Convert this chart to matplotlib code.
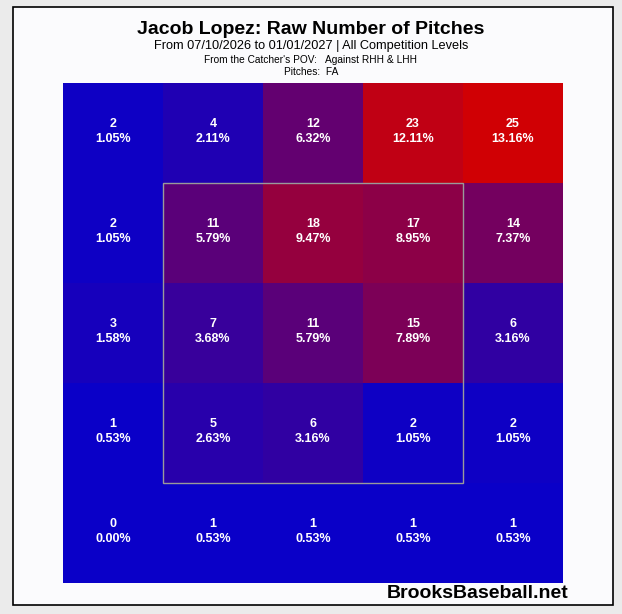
import numpy as np
import matplotlib.pyplot as plt
from matplotlib.colors import LinearSegmentedColormap
from matplotlib.patches import Rectangle

plt.rcParams['font.family'] = ['Liberation Sans', 'DejaVu Sans']

# pitch counts per zone, top row first (catcher's view)
row_top = [2, 4, 12, 23, 25]
row_2 = [2, 11, 18, 17, 14]
row_3 = [3, 7, 11, 15, 6]
row_4 = [1, 5, 6, 2, 2]
row_bottom = [0, 1, 1, 1, 1]

title = "Jacob Lopez: Raw Number of Pitches"
subtitle = "From 07/10/2026 to 01/01/2027 | All Competition Levels"
pov_line = "From the Catcher's POV:   Against RHH & LHH"
pitch_line = "Pitches:  FA"
watermark = "BrooksBaseball.net"

counts = np.array([row_top, row_2, row_3, row_4, row_bottom])
pct = counts / counts.sum() * 100

W, H = 622, 614
fig = plt.figure(figsize=(W / 100, H / 100), dpi=100)
fig.patch.set_facecolor('#ebebeb')

# white panel with black frame
panel = Rectangle((13 / W, 1 - 605 / H), 600 / W, 598 / H, transform=fig.transFigure,
                  facecolor='#fbfbfd', edgecolor='black', linewidth=1.2, zorder=-5)
fig.patches.append(panel)

ax = fig.add_axes([63 / W, 1 - 583 / H, 500 / W, 500 / H])
ax.set_zorder(2)
cmap = LinearSegmentedColormap.from_list('br', ['#0a00c8', '#d00004'])
# low counts all sit at the blue end
ax.pcolormesh(np.arange(6), np.arange(6), counts, cmap=cmap, vmin=1.5, vmax=counts.max())
ax.set_xlim(0, 5)
ax.set_ylim(5, 0)
ax.axis('off')

# strike zone
ax.add_patch(Rectangle((1, 1), 3, 3, fill=False, edgecolor='#9a9a9a', linewidth=1))

for r in range(5):
    for c in range(5):
        ax.text(c + 0.5, r + 0.41, str(counts[r, c]), ha='center', va='center',
                color='white', fontsize=9, fontweight='bold')
        ax.text(c + 0.5, r + 0.565, f"{pct[r, c]:.2f}%", ha='center', va='center',
                color='white', fontsize=9, fontweight='bold')

fig.text(311 / W, 1 - 29 / H, title, ha='center', va='center', fontsize=14, fontweight='bold')
fig.text(311 / W, 1 - 46 / H, subtitle, ha='center', va='center', fontsize=9.2)
fig.text(311 / W, 1 - 60 / H, pov_line, ha='center', va='center', fontsize=7.3)
fig.text(311 / W, 1 - 72 / H, pitch_line, ha='center', va='center', fontsize=7.3)
fig.text(568 / W, 1 - 594 / H, watermark, ha='right', va='center', fontsize=14, fontweight='bold')

fig.savefig('out.png', dpi=100, facecolor=fig.get_facecolor())
